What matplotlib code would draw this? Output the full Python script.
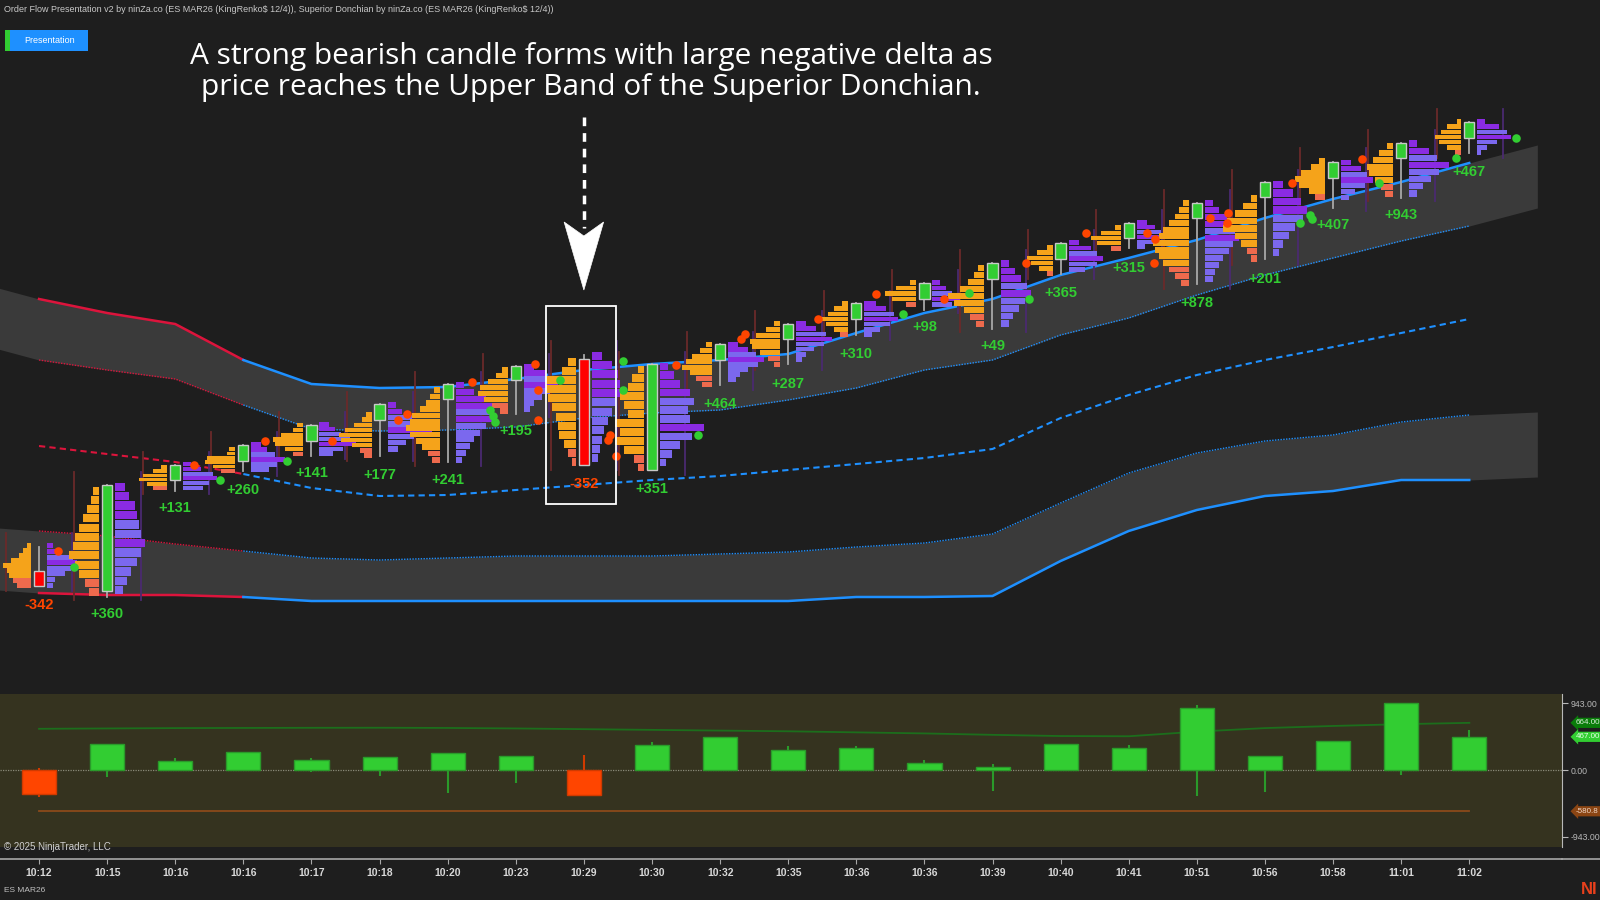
import numpy as np
import matplotlib.pyplot as plt
from matplotlib.patches import Rectangle, Polygon
from matplotlib.lines import Line2D
import matplotlib.transforms as mtrans

# ---- data (main panel levels are read straight off the screen, so they grow downward) ----
times = ["10:12", "10:15", "10:16", "10:16", "10:17", "10:18", "10:20", "10:23", "10:29", "10:30", "10:32",
         "10:35", "10:36", "10:36", "10:39", "10:40", "10:41", "10:51", "10:56", "10:58", "11:01", "11:02"]
opens = [571, 591, 480, 461, 441, 420, 399, 380, 359, 470, 360, 339, 319, 299, 279, 259, 238, 218, 197, 178, 158, 138]
closes = [586, 485, 465, 445, 425, 404, 384, 366, 465, 364, 344, 324, 303, 283, 263, 243, 223, 203, 182, 162, 143, 122]
highs = [547, 485, 465, 445, 425, 404, 384, 366, 355, 364, 344, 324, 303, 283, 263, 243, 223, 203, 182, 162, 143, 122]
lows = [586, 597, 491, 471, 456, 456, 462, 414, 465, 470, 385, 364, 335, 310, 329, 274, 248, 284, 259, 208, 198, 153]

deltas = [-342, 360, 131, 260, 141, 177, 241, 195, -352, 351, 464, 287, 310, 98, 49, 365, 315, 878, 201, 407, 943, 467]
delta_hi = [35, 360, 175, 260, 175, 177, 241, 195, 215, 400, 464, 340, 340, 145, 85, 365, 355, 915, 201, 415, 943, 560]
delta_lo = [-375, -105, 0, -20, -30, -90, -330, -185, -352, 0, 0, 0, 0, 0, -300, 0, 0, -360, -315, 0, -70, 0]
avg_pos = [580, 585, 590, 592, 594, 595, 592, 585, 575, 565, 555, 545, 530, 515, 495, 478, 475, 540, 590, 620, 645, 664]
avg_neg = -580.8

# volume profile per bar: (top, bottom) range and row volumes top->bottom
bid_rng = [(543, 588), (486, 597), (465, 490), (447, 473), (423, 456), (412, 458), (387, 463), (367, 414),
           (357, 467), (365, 472), (342, 387), (321, 367), (301, 337), (280, 307), (265, 327), (245, 276),
           (225, 251), (200, 286), (195, 262), (158, 200), (143, 197), (119, 155)]
bid_vol = [[4, 8, 12, 20, 28, 24, 22, 18, 14], [6, 8, 12, 16, 20, 24, 26, 30, 24, 20, 14, 10],
           [6, 14, 24, 28, 20, 14], [6, 8, 28, 30, 22, 14], [6, 10, 22, 30, 28, 18, 10],
           [6, 10, 18, 26, 32, 30, 20, 12, 8], [6, 10, 14, 20, 28, 30, 34, 30, 24, 18, 12, 8],
           [6, 12, 20, 28, 30, 24, 16, 8], [8, 14, 30, 30, 28, 24, 20, 18, 17, 12, 8, 4],
           [6, 12, 16, 24, 20, 16, 29, 24, 29, 20, 10, 6], [6, 12, 20, 26, 30, 22, 16, 10],
           [6, 14, 24, 30, 28, 20, 12, 6], [6, 14, 20, 26, 22, 14, 8], [6, 20, 31, 24, 10],
           [6, 10, 16, 24, 36, 30, 20, 14, 8], [6, 16, 26, 22, 14, 6], [6, 20, 30, 24, 10],
           [6, 10, 14, 20, 26, 30, 36, 34, 30, 26, 20, 14, 8], [6, 14, 22, 30, 34, 22, 16, 10, 6],
           [6, 14, 24, 30, 26, 16, 10], [6, 14, 20, 26, 24, 18, 12, 8], [4, 14, 20, 26, 22, 14, 6]]
ask_rng = [(543, 588), (482, 595), (462, 490), (442, 472), (422, 456), (402, 452), (382, 463), (364, 412),
           (351, 463), (362, 467), (342, 382), (321, 362), (301, 337), (280, 307), (260, 327), (240, 272),
           (220, 249), (200, 282), (180, 257), (160, 200), (140, 197), (119, 155)]
ask_vol = [[6, 12, 26, 30, 24, 18, 8, 6], [10, 14, 20, 22, 24, 26, 30, 26, 22, 16, 12, 8],
           [8, 18, 30, 34, 26, 20], [10, 16, 24, 34, 26, 18], [10, 16, 22, 30, 36, 24, 14],
           [8, 14, 24, 30, 44, 26, 18, 10], [8, 18, 30, 36, 34, 40, 30, 24, 18, 14, 10, 6],
           [10, 22, 30, 34, 26, 18, 10, 6], [10, 20, 26, 28, 30, 24, 20, 16, 12, 10, 8, 6],
           [8, 14, 20, 30, 34, 28, 30, 44, 32, 20, 12, 6], [10, 20, 28, 36, 30, 20, 12, 8],
           [10, 20, 30, 36, 28, 18, 10, 6], [12, 22, 30, 34, 26, 16, 8], [8, 14, 20, 28, 20],
           [8, 14, 20, 26, 30, 24, 18, 12, 8], [10, 22, 28, 34, 28, 16], [10, 18, 24, 30, 20, 8],
           [8, 14, 22, 26, 30, 34, 28, 24, 18, 14, 10, 8], [10, 20, 28, 34, 30, 22, 16, 10, 6],
           [10, 20, 26, 32, 24, 14, 8], [8, 20, 28, 40, 30, 22, 14, 8], [8, 22, 30, 34, 20, 10, 4]]

# imbalance dots (x in bar units, level)
red_x = [0.28, 2.28, 3.32, 4.30, 5.27, 5.40, 6.36, 7.28, 7.33, 7.33, 8.38, 8.36, 8.47, 9.35, 10.31, 10.37,
         11.44, 12.29, 13.29, 14.49, 15.37, 16.27, 16.39, 16.37, 17.20, 17.46, 17.44, 18.40, 19.43]
red_y = [551, 465, 441, 441, 420, 414, 382, 364, 390, 420, 435, 440, 456, 365, 339, 334,
         319, 294, 299, 263, 233, 233, 239, 263, 218, 213, 223, 183, 159]
grn_x = [0.51, 2.66, 3.64, 6.62, 6.67, 6.70, 7.65, 8.58, 8.58, 9.68, 12.69, 13.66, 14.54,
         18.52, 18.66, 18.69, 19.68, 20.81, 21.69]
grn_y = [567, 480, 461, 410, 416, 422, 380, 361, 390, 435, 314, 293, 299, 223, 215, 219, 183, 158, 138]

# Superior Donchian (bars 0..21), plus the shaded band's left/right edges
up_top = [299, 313, 324, 360, 384, 388, 387, 379, 370, 364, 360, 354, 333, 313, 299, 275, 258, 240, 218, 199, 182, 163]
up_bot = [360, 370, 379, 405, 429, 431, 430, 427, 418, 413, 410, 400, 388, 370, 360, 335, 318, 295, 275, 258, 241, 226]
mid = [446, 454, 462, 474, 488, 496, 495, 490, 485, 480, 476, 470, 464, 458, 449, 418, 395, 375, 360, 347, 333, 319]
lo_top = [531, 536, 544, 551, 558, 560, 558, 556, 556, 556, 554, 552, 547, 543, 534, 503, 473, 453, 441, 435, 422, 415]
lo_bot = [593, 595, 595, 597, 601, 601, 601, 601, 601, 601, 601, 601, 597, 597, 596, 561, 531, 510, 496, 491, 480, 480]
edge_x = (-0.6, 22.0)
edge_up = ((288, 349), (145, 208))
edge_lo = ((528, 590), (412, 477))

BG = "#1E1E1E"
GREEN = "#32CD32"
RED = "#FF4500"
BLUE = "#1E90FF"
CRIMSON = "#DC143C"

fig = plt.figure(figsize=(16, 9), dpi=100, facecolor=BG)
ax = fig.add_axes([0, 1 - 692 / 900, 1, 692 / 900])
ax.set_facecolor(BG)
ax.set_xlim(-0.573, 22.92)
ax.set_ylim(692, 0)
ax.axis("off")

n = len(times)
xs = np.arange(n)

# bands
bx = np.concatenate([[edge_x[0]], xs, [edge_x[1]]])
ax.fill_between(bx, [edge_up[0][0]] + up_top + [edge_up[1][0]], [edge_up[0][1]] + up_bot + [edge_up[1][1]],
                color="#3A3A3A", lw=0, zorder=1)
ax.fill_between(bx, [edge_lo[0][0]] + lo_top + [edge_lo[1][0]], [edge_lo[0][1]] + lo_bot + [edge_lo[1][1]],
                color="#3A3A3A", lw=0, zorder=1)

turn = 3
styles = [(up_top, dict(lw=1.8, ls="-")), (lo_bot, dict(lw=1.8, ls="-")),
          (up_bot, dict(lw=1.0, ls=(0, (1, 1)))), (lo_top, dict(lw=1.0, ls=(0, (1, 1)))),
          (mid, dict(lw=1.5, ls=(0, (3, 2))))]
for vals, st in styles:
    ax.plot(xs[:turn + 1], vals[:turn + 1], color=CRIMSON, zorder=2, **st)
    ax.plot(xs[turn:], vals[turn:], color=BLUE, zorder=2, **st)

# profiles
unit = 1 / 68.0
off = 8 * unit
for i in range(n):
    top, bot = bid_rng[i]
    vols = bid_vol[i]
    k = len(vols)
    h = (bot - top) / k
    nsal = max(1, round(k * 0.2))
    for j, v in enumerate(vols):
        c = "#EE6A4D" if j >= k - nsal else "#F5A31A"
        ax.barh(top + (j + 0.5) * h, -v * unit, left=i - off, height=h * 0.88, color=c, lw=0, zorder=3)
    top2, bot2 = ask_rng[i]
    vols = ask_vol[i]
    k = len(vols)
    h = (bot2 - top2) / k
    nvi = max(1, round(k * 0.3))
    jmax = int(np.argmax(vols))
    for j, v in enumerate(vols):
        c = "#8A2BE2" if (j < nvi or j == jmax) else "#7B68EE"
        ax.barh(top2 + (j + 0.5) * h, v * unit, left=i + off, height=h * 0.88, color=c, lw=0, zorder=3)
    lo_ = max(bot, bot2, lows[i]) + 3
    hi_ = min(top, top2, highs[i]) - 10
    ax.plot([i - 0.48, i - 0.48], [hi_, lo_], color="#6A2A2A", lw=1.3, zorder=2.5)
    ax.plot([i + 0.49, i + 0.49], [hi_, lo_], color="#4A2A70", lw=1.3, zorder=2.5)

# candles
for i in range(n):
    up = closes[i] < opens[i]
    ax.plot([i, i], [highs[i], lows[i]], color="#A8A8A8", lw=1.3, zorder=4)
    y0 = min(opens[i], closes[i])
    ax.add_patch(Rectangle((i - 0.075, y0), 0.15, abs(opens[i] - closes[i]),
                           fc=GREEN if up else "#FF0000", ec="#C8C8C8", lw=1.0, zorder=5))
    lab_y = max(lows[i], bid_rng[i][1], ask_rng[i][1]) + 17
    ax.text(i, lab_y, f"{deltas[i]:+d}", ha="center", va="center", fontsize=10.5, fontweight="bold",
            family="Liberation Sans", color=GREEN if deltas[i] > 0 else RED, zorder=6)

ax.scatter(red_x, red_y, s=38, color=RED, lw=0, zorder=6)
ax.scatter(grn_x, grn_y, s=38, color=GREEN, lw=0, zorder=6)

# callout: box around the bearish candle and dashed arrow
ax.add_patch(Rectangle((7.44, 306), 1.03, 198, fill=False, ec="white", lw=1.3, zorder=7))
ax.plot([8, 8], [117, 228], color="white", lw=2.5, ls=(0, (2.5, 2)), zorder=7)
ax.add_patch(Polygon([(8 - 0.29, 222), (8, 290), (8 + 0.29, 222), (8, 236)], closed=True,
                     fc="white", ec="white", lw=0.5, zorder=7))
ax.text(8.11, 72, "A strong bearish candle forms with large negative delta as\n"
        "price reaches the Upper Band of the Superior Donchian.",
        ha="center", va="center", fontsize=21.5, color="white", family="Open Sans", linespacing=1.08,
        zorder=8)

# header
fig.text(4 / 1600, 1 - 10 / 900, "Order Flow Presentation v2 by ninZa.co (ES MAR26 (KingRenko$ 12/4)), "
         "Superior Donchian by ninZa.co (ES MAR26 (KingRenko$ 12/4))", parse_math=False,
         ha="left", va="center", fontsize=6.5, color="#C8C8C8", family="Liberation Sans")
fig.add_artist(Rectangle((5 / 1600, 1 - 51 / 900), 83 / 1600, 21 / 900, transform=fig.transFigure,
                         fc=BLUE, ec="none"))
fig.add_artist(Rectangle((5 / 1600, 1 - 51 / 900), 5 / 1600, 21 / 900, transform=fig.transFigure,
                         fc=GREEN, ec="none"))
fig.text(50 / 1600, 1 - 40.5 / 900, "Presentation", ha="center", va="center", fontsize=6.5,
         color="white", family="Liberation Sans")

# ---- delta panel ----
axb = fig.add_axes([0, 53 / 900, 1562 / 1600, 153 / 900])
axb.set_facecolor("#35331F")
axb.set_xlim(-0.573, 22.36)
axb.set_ylim(-1084, 1070)
colors = [GREEN if d > 0 else RED for d in deltas]
edges = ["#2A9A2A" if d > 0 else "#D03A00" for d in deltas]
axb.vlines(xs, delta_lo, delta_hi, colors=edges, lw=1.5, zorder=2)
axb.bar(xs, deltas, width=0.5, color=colors, edgecolor=edges, lw=1, zorder=3)
axb.axhline(0, color="#8A8A78", lw=0.9, ls=(0, (1, 1)), zorder=1)
axb.plot(xs, avg_pos, color="#1C6E1C", lw=1.3, zorder=1.5)
axb.plot([xs[0], xs[-1]], [avg_neg, avg_neg], color="#8B4A1A", lw=1.3, zorder=1.5)

for s in ["top", "left"]:
    axb.spines[s].set_visible(False)
axb.spines["right"].set_color("#B8B8B8")
axb.spines["bottom"].set_color("#A8A8A8")
axb.spines["bottom"].set_position(("outward", 8.6))
axb.spines["bottom"].set_linewidth(1.2)
axb.yaxis.tick_right()
axb.set_yticks([943, 0, -943])
axb.set_yticklabels(["943.00", "0.00", "-943.00"])
axb.tick_params(axis="y", colors="#B8B8B8", labelsize=6.3, length=4, pad=2.5)
axb.set_xticks(xs)
axb.set_xticklabels(times)
axb.tick_params(axis="x", colors="#A8A8A8", labelcolor="#D8D8D8", labelsize=7.5, length=3.6, pad=3.2)
for lab in axb.get_xticklabels() + axb.get_yticklabels():
    lab.set_family("Liberation Sans")
for lab in axb.get_xticklabels():
    lab.set_fontweight("bold")

tr = mtrans.blended_transform_factory(axb.transAxes, axb.transData)
for val, txt, fc, tc in [(664, "664.00", "#0A7D0A", "#D8F0D8"), (467, "467.00", GREEN, "#E8FFE8"),
                         (avg_neg, "-580.8", "#8B4513", "#F0D8C8")]:
    axb.text(1.009, val, txt, transform=tr, ha="left", va="center", fontsize=5.8, color=tc,
             family="Liberation Sans", clip_on=False,
             bbox=dict(boxstyle="larrow,pad=0.2", fc=fc, ec="none"), zorder=10)

fig.add_artist(Line2D([1562 / 1600, 1], [41 / 900, 41 / 900], transform=fig.transFigure,
                      color="#A8A8A8", lw=1.2))
fig.text(4 / 1600, 1 - 847 / 900, "\u00a9 2025 NinjaTrader, LLC", ha="left", va="center", fontsize=7,
         color="#D0D0D0", family="Liberation Sans")
fig.text(4 / 1600, 1 - 891 / 900, "ES MAR26", ha="left", va="center", fontsize=6, color="#C0C0C0",
         family="Liberation Sans")
fig.text(1598 / 1600, 1 - 890 / 900, "NI", ha="right", va="center", fontsize=12, fontweight="bold",
         color="#E8401C", family="Liberation Sans")

fig.savefig("out.png", dpi=100, facecolor=BG)
